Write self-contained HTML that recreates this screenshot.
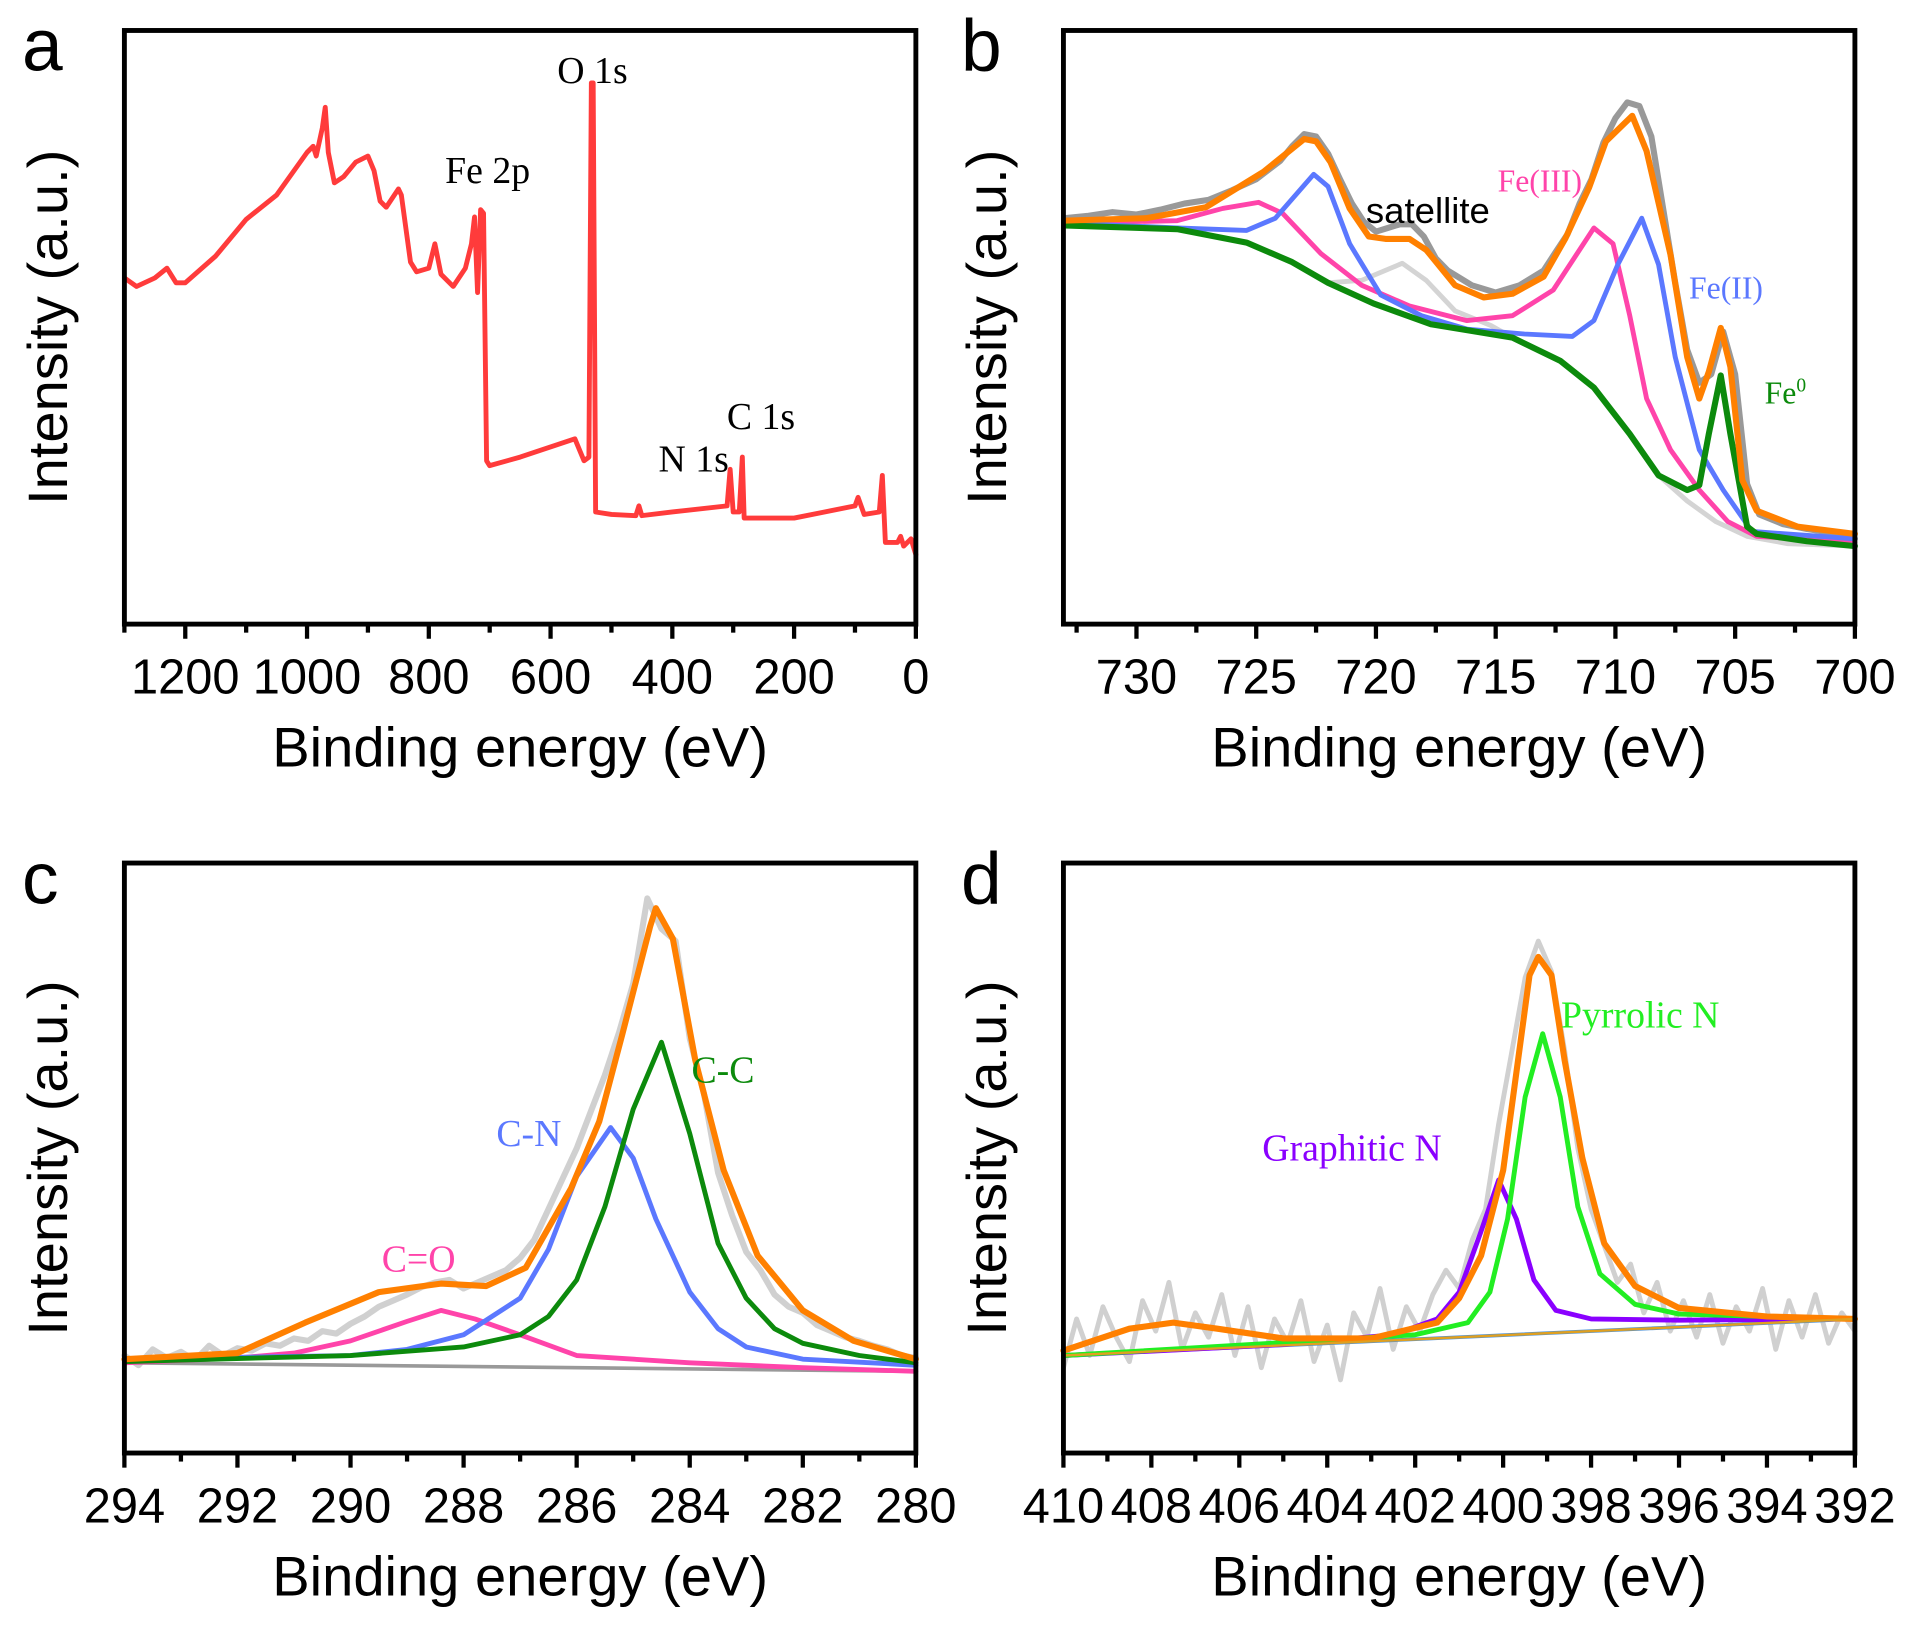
<!DOCTYPE html>
<html><head><meta charset="utf-8"><style>
html,body{margin:0;padding:0;background:#fff;}
svg{display:block;}
.tk{font-family:"Liberation Sans",Arial,sans-serif;font-size:40px;fill:#000;}
.tt{font-family:"Liberation Sans",Arial,sans-serif;font-size:46px;fill:#000;}
.pl{font-family:"Liberation Sans",Arial,sans-serif;font-size:60px;fill:#000;}
.an{font-family:"Liberation Serif","Times New Roman",serif;font-size:31px;}
</style></head><body>
<svg id="fig" width="1911" height="1631" viewBox="0 0 1567 1338" preserveAspectRatio="none" xmlns="http://www.w3.org/2000/svg">
<rect x="0" y="0" width="1567" height="1338" fill="#fff"/>
</svg>
<script>
// ---------- Panel a: survey ----------
const aE=[1300,1280,1250,1230,1215,1200,1150,1100,1050,1000,990,985,975,970,965,955,940,920,900,890,880,870,850,845,830,820,800,790,780,760,740,730,725,720,715,710,705,700,650,560,545,537,533,530,526,500,460,455,450,400,310,305,300,290,285,282,200,150,100,95,85,60,55,50,30,25,20,8,0];
const aV=[284,277,284,292,280,280,302,332,352,387,392,384,407,424,387,362,367,379,384,372,347,342,357,352,297,289,292,312,287,277,292,312,334,272,340,337,134,130,137,152,134,137,444,444,92,90,89,97,89,92,97,127,92,92,137,87,87,92,97,104,90,92,122,67,67,72,64,70,57];
const aTicks=[1200,1000,800,600,400,200,0];
// ---------- Panel b: Fe 2p ----------
const bRawE=[733,732,731,730,729,728,727,726,725,724,723.5,723,722.5,722,721.5,721,720.5,720,719.5,719,718.5,718,717.5,717,716,715,714,713,712.5,712,711.5,711,710.5,710,709.5,709,708.5,708,707.5,707,706.5,706,705.5,705,704.5,704,703,702,701,700];
const bRawV=[333,335,338,336,340,345,348,356,365,380,392,402,400,386,365,345,330,322,325,328,328,318,300,290,278,272,278,290,305,320,345,365,395,415,428,425,400,340,280,225,198,205,240,205,115,90,82,78,75,70];
const bFitE=[733,729.6,727.1,724.7,723,722.5,721.9,721.1,720.3,719.6,718.6,717.9,716.7,715.5,714.3,713,712.1,711.1,710.4,709.3,708.7,707.7,707,706.5,706.1,705.6,705.2,704.7,704.1,702.4,700];
const bFitV=[331,333,342,371,398,396,379,341,318,316,316,307,278,268,271,285,316,358,396,417,388,303,219,185,207,243,211,118,93,80,74];
const bBgE=[733,728.3,725.4,723.5,722,720.1,717.7,714.3,712.3,710.9,709.4,708.2,707,705.8,704.5,702.8,700];
const bBgV=[327,324,313,297,280,263,246,235,216,194,156,122,101,84,72,66,64];
const bSatE=[733,728.3,725.4,723.5,722,720.6,718.9,717.9,716.7,715.2,714.3,712.3,710.9,709.4,708.2,707,705.8,704.5,702.8,700];
const bSatV=[327,324,313,297,280,282,296,282,257,245,235,216,194,156,122,101,84,72,66,64];
const bFe0E=[733,728.3,725.4,723.5,722,720.1,717.7,714.3,712.3,710.9,709.4,708.2,707,706.5,706.1,705.6,705.2,704.5,704.1,702,700];
const bFe0V=[327,324,313,297,280,263,246,235,216,194,156,122,110,114,156,204,156,80,74,68,64];
const bFe2E=[733,728.3,725.4,724.2,722.6,722,721.1,719.8,718.1,716.2,713.8,711.8,710.9,709.9,708.9,708.2,707.5,706.5,705.5,704.3,700];
const bFe2V=[329,325,323,333,369,359,312,270,253,242,238,236,249,295,333,295,219,143,110,76,70];
const bFe3E=[733,728.3,726.4,724.9,723.9,722.3,720.6,718.6,716.2,714.3,712.6,710.9,710.1,709.4,708.7,707.7,706.5,705.3,704.1,700];
const bFe3V=[329,331,341,346,337,304,278,261,249,253,274,325,312,253,185,143,110,84,72,67];
const bTicks=[730,725,720,715,710,705,700];
// ---------- Panel c: C 1s ----------
const cRawE=[294,293.75,293.5,293.25,293,292.75,292.5,292.25,292,291.75,291.5,291.25,291,290.75,290.5,290.25,290,289.75,289.5,289.25,289,288.75,288.5,288.25,288,287.75,287.5,287.25,287,286.75,286.5,286.25,286,285.75,285.5,285.25,285,284.75,284.5,284.25,284,283.75,283.5,283.25,283,282.75,282.5,282.25,282,281.75,281.5,281.25,281,280.75,280.5,280.25,280];
const cRawV=[80,72,85,78,83,76,88,80,86,84,90,88,94,92,100,98,106,112,120,125,130,136,140,142,135,140,145,150,160,175,200,225,250,280,310,345,385,455,430,420,340,295,230,195,165,150,130,120,115,105,100,95,92,88,85,80,78];
const cFitE=[294,292,290.8,289.5,288.4,287.6,286.9,286.1,285.6,285.2,284.7,284.6,284.3,283.9,283.4,282.8,282,281.1,280];
const cFitV=[77,82,107,132,139,137,152,217,272,342,432,447,422,322,232,162,117,92,77];
const cCOE=[294,292,291,290,289,288.4,287.8,287,286,284,282,280];
const cCOV=[74,78,82,92,108,117,110,97,80,74,70,67];
const cCNE=[294,290,289,288,287,286.5,286,285.4,285,284.6,284,283.5,283,282,280];
const cCNV=[77,80,85,97,127,167,227,267,242,192,132,102,87,77,72];
const cCCE=[294,290,288,287,286.5,286,285.5,285,284.5,284,283.5,283,282.5,282,281,280];
const cCCV=[75,80,87,97,112,142,202,282,337,262,172,127,102,90,80,74];
const cBgE=[294,280];
const cBgV=[74,67];
const cTicks=[294,292,290,288,286,284,282,280];
// ---------- Panel d: N 1s ----------
const dRawV=[70,110,80,120,95,75,125,100,140,85,115,95,130,80,120,70,110,90,125,75,105,60,115,95,135,85,120,100,130,150,135,175,200,270,330,390,420,395,330,250,200,170,140,155,115,140,100,125,95,130,90,120,100,135,85,125,95,130,90,115,100];
const dFitE=[410,408.5,407.5,406.5,405,403,401.5,401,400.5,400,399.7,399.4,399.2,398.9,398.6,398.2,397.7,397,396,394,392];
const dFitV=[84,102,107,102,94,94,107,127,162,232,312,392,407,392,322,242,172,137,119,112,110];
const dGrE=[410,405,402.5,401.5,401,400.5,400.1,399.7,399.3,398.8,398,396,392];
const dGrV=[80,89,97,110,132,182,224,192,142,117,110,109,110];
const dPyE=[410,402,400.8,400.3,399.9,399.5,399.1,398.7,398.3,397.8,397,396,392];
const dPyV=[80,97,107,132,192,292,344,292,202,147,122,114,110];
const dBgE=[410,392];
const dBgV=[80,110];
const dTicks=[410,408,406,404,402,400,398,396,394,392];

const NS="http://www.w3.org/2000/svg";
const svg=document.getElementById('fig');
function mk(tag,attrs,parent){const e=document.createElementNS(NS,tag);for(const k in attrs)e.setAttribute(k,attrs[k]);(parent||svg).appendChild(e);return e;}

function panel(cfg){
  const g=mk('g',{});
  
  
  const X=e=>cfg.x0+(cfg.eL-e)/(cfg.eL-cfg.eR)*(cfg.x1-cfg.x0);
  const Y=v=>cfg.y1-v;
  cfg.X=X;cfg.Y=Y;cfg.g=g;
  const step=cfg.minor;
  for(let e=cfg.eR;e<=cfg.eL+1e-6;e+=step){
    const major=cfg.ticks.some(t=>Math.abs(t-e)<1e-6);
    const t=mk('line',{x1:X(e),x2:X(e),y1:cfg.y1,y2:cfg.y1+(major?12:7),stroke:'#000','stroke-width':3.5},g);
    
    
  }
  cfg.ticks.forEach(tv=>{
    const t=mk('text',{x:X(tv),y:cfg.y1+57,'text-anchor':'middle',class:'tk'},g);
    t.textContent=tv;
    
    
  });
  const xt=mk('text',{x:(cfg.x0+cfg.x1)/2,y:cfg.y1+117,'text-anchor':'middle',class:'tt'},g);
  xt.textContent='Binding energy (eV)';
  
  
  const yc=(cfg.y0+cfg.y1)/2;
  const yt=mk('text',{x:0,y:0,transform:`translate(${cfg.x0-47},${yc}) rotate(-90)`,'text-anchor':'middle',class:'tt'},g);
  yt.textContent='Intensity (a.u.)';
  
  
  const pl=mk('text',{x:cfg.x0-84,y:cfg.y0+33,class:'pl'},g);
  pl.textContent=cfg.letter;
  
  
  return cfg;
}
function series(cfg,E,V,color,w,name){
  let d='';
  for(let i=0;i<E.length;i++){d+=(i?'L':'M')+cfg.X(E[i]).toFixed(1)+','+cfg.Y(V[i]).toFixed(1);}
  const p=mk('path',{d:d,fill:'none',stroke:color,'stroke-width':w,'stroke-linejoin':'round','stroke-linecap':'round'},cfg.g);
  
  
}
function frame(cfg){
  const r=mk('rect',{x:cfg.x0,y:cfg.y0,width:cfg.x1-cfg.x0,height:cfg.y1-cfg.y0,fill:'none',stroke:'#000','stroke-width':4},cfg.g);
  
  
}
function label(cfg,x,y,txt,color,name,font){
  const t=mk('text',{x:x,y:y,fill:color,class:'an'},cfg.g);
  if(font)t.setAttribute('style',font);
  t.textContent=txt;
  
  
  return t;
}

const A=panel({name:'panel-a-survey',letter:'a',x0:102,x1:751,y0:25,y1:512,eL:1300,eR:0,ticks:aTicks,minor:100});
series(A,aE,aV,'#ff3b3b',4,'survey-spectrum');
frame(A);
label(A,457,68,'O 1s','#000','o1s-label');
label(A,365,150,'Fe 2p','#000','fe2p-label');
label(A,596,352,'C 1s','#000','c1s-label');
label(A,540,387,'N 1s','#000','n1s-label');

const B=panel({name:'panel-b-fe2p',letter:'b',x0:872,x1:1521,y0:25,y1:512,eL:733.05,eR:700,ticks:bTicks,minor:2.5});
series(B,bRawE,bRawV,'#999',5,'raw-data');
series(B,bSatE,bSatV,'#d4d4d4',4,'satellite-peak');
series(B,bFe3E,bFe3V,'#ff44aa',4,'fe3-peak');
series(B,bFe2E,bFe2V,'#5b78ff',4,'fe2-peak');
series(B,bFe0E,bFe0V,'#0c8a0c',5,'fe0-peak');
series(B,bFitE,bFitV,'#ff8000',5,'envelope-fit');
frame(B);
label(B,1120,183,'satellite','#000','satellite-label','font-family:"Liberation Sans",Arial,sans-serif;font-size:30px;');
label(B,1228,157,'Fe(III)','#ff44aa','fe3-label','font-size:26px;');
label(B,1385,245,'Fe(II)','#5b78ff','fe2-label','font-size:26px;');
const f0=label(B,1447,331,'Fe','#0c8a0c','fe0-label','font-size:26px;');
const sup=mk('tspan',{dy:-10,'font-size':16},f0);sup.textContent='0';

const C=panel({name:'panel-c-c1s',letter:'c',x0:102,x1:751,y0:708,y1:1192,eL:294,eR:280,ticks:cTicks,minor:1});
series(C,cRawE,cRawV,'#d0d0d0',5,'raw-data');
series(C,cBgE,cBgV,'#999',3,'baseline');
series(C,cCOE,cCOV,'#ff44aa',4,'c-o-peak');
series(C,cCNE,cCNV,'#5b78ff',4,'c-n-peak');
series(C,cCCE,cCCV,'#0c8a0c',4,'c-c-peak');
series(C,cFitE,cFitV,'#ff8000',5,'envelope-fit');
frame(C);
label(C,313,1043,'C=O','#ff44aa','c-o-label');
label(C,407,940,'C-N','#5b78ff','c-n-label');
label(C,567,888,'C-C','#0c8a0c','c-c-label');

const D=panel({name:'panel-d-n1s',letter:'d',x0:872,x1:1521,y0:708,y1:1192,eL:410,eR:392,ticks:dTicks,minor:1});
const dRawE=dRawV.map((_,i)=>410-0.3*i);
series(D,dRawE,dRawV,'#d0d0d0',4,'raw-data');
series(D,dBgE,dBgV,'#4a90d9',3,'baseline');
series(D,dGrE,dGrV,'#8a00ff',4,'graphitic-n-peak');
series(D,dPyE,dPyV,'#22ee22',4,'pyrrolic-n-peak');
series(D,dFitE,dFitV,'#ff8000',5,'envelope-fit');
series(D,dBgE,dBgV,'#e0a020',2,'baseline-overlay');
frame(D);
label(D,1035,952,'Graphitic N','#8a00ff','graphitic-n-label');
label(D,1280,843,'Pyrrolic N','#22ee22','pyrrolic-n-label');
</script>
</body></html>
